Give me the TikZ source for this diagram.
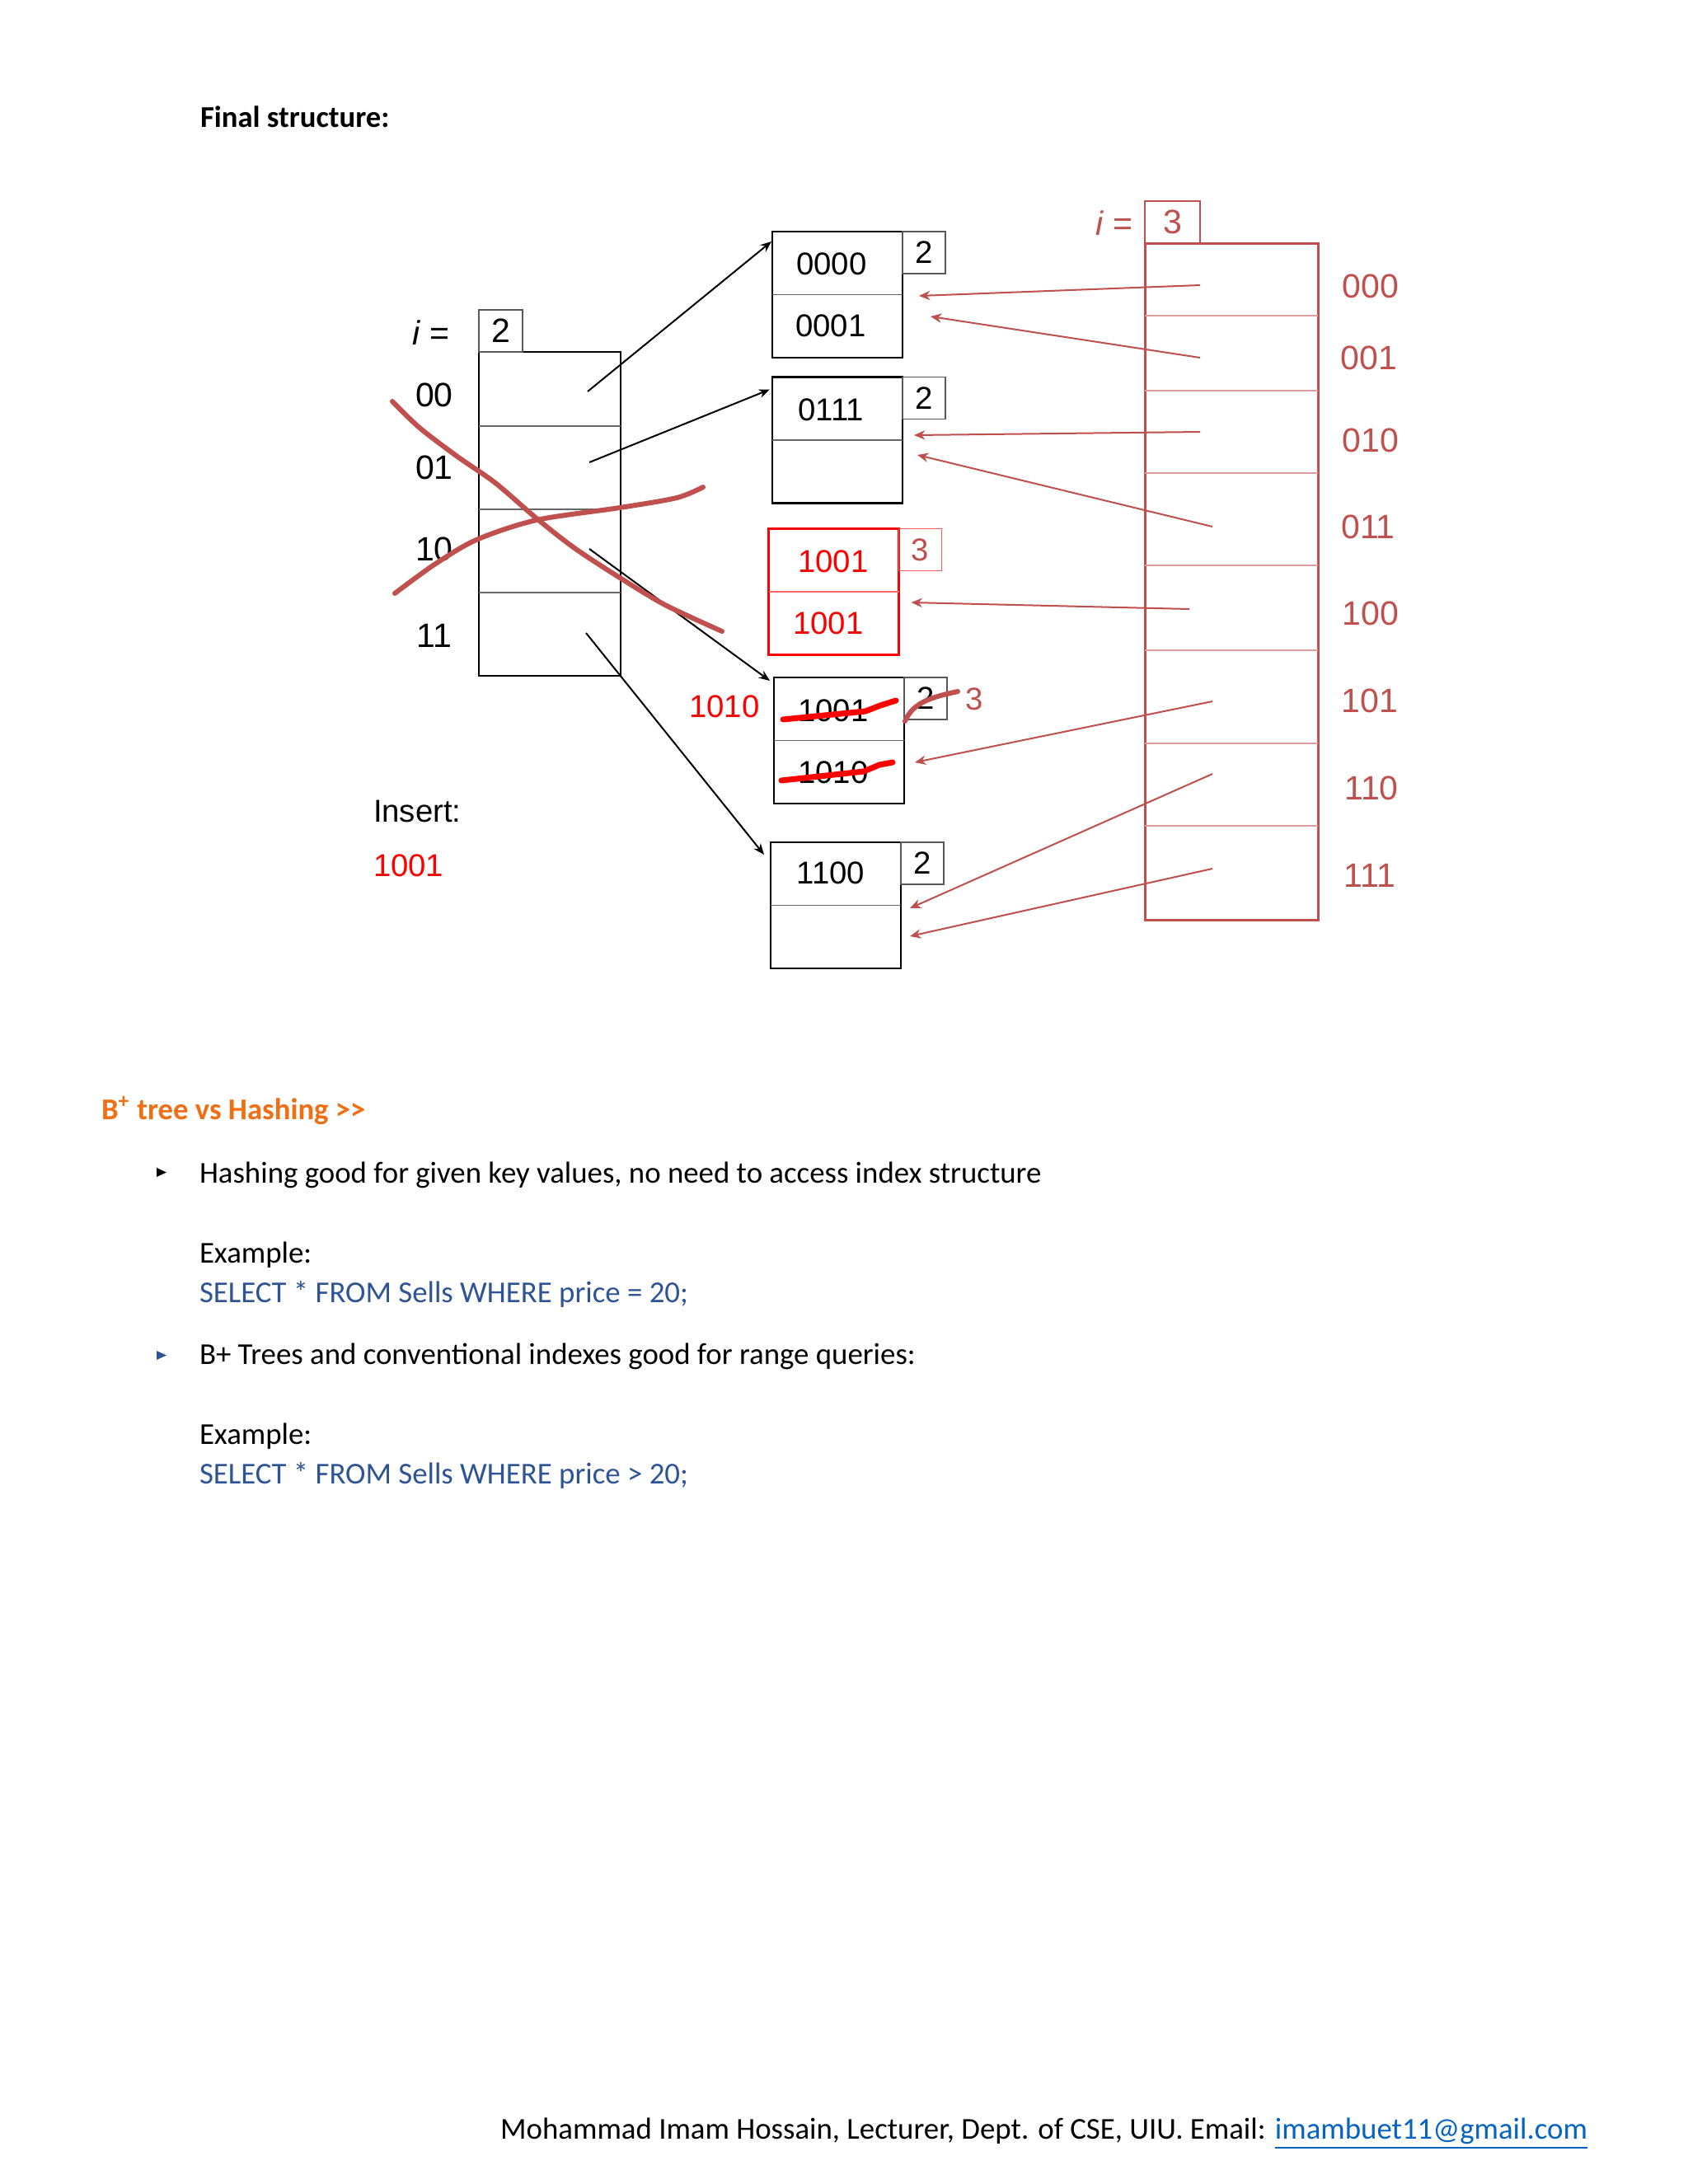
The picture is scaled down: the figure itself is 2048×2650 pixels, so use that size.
\documentclass[tikz,border=0pt]{standalone}
\usepackage{fontspec}
\setmainfont{Carlito}
\newfontfamily\arialfont{Liberation Sans}
\usetikzlibrary{arrows.meta}

\definecolor{dirred}{RGB}{192,80,77}
\definecolor{newred}{RGB}{255,0,0}
\definecolor{sqlblue}{RGB}{47,84,150}
\definecolor{headorange}{RGB}{240,110,20}
\definecolor{linkblue}{RGB}{5,99,193}

\begin{document}
\begin{tikzpicture}[
    x=0.3pt,
    y=-0.3pt,
    every node/.style={inner sep=0pt, outer sep=0pt},
    diag/.style={font=\arialfont\fontsize{11.5}{13}\selectfont},
    dirlab/.style={font=\arialfont\fontsize{12.3}{14}\selectfont},
    bucket/.style={draw, line width=0.8pt, minimum width=47.4pt, minimum height=45.9pt},
    divider/.style={draw=gray!80!black, line width=0.5pt},
    cntbox/.style={diag, draw=gray!70!black, line width=0.5pt, minimum width=15.6pt, minimum height=15.3pt, anchor=north west},
    ptr/.style={-{Stealth[length=4pt, width=3.2pt]}, line width=0.6pt},
    ptrthree/.style={-{Stealth[length=4pt, width=3.4pt]}, line width=0.6pt, draw=dirred},
    scribble/.style={draw=dirred, line width=1.8pt, line cap=round, line join=round},
    strike/.style={draw=newred, line width=2.1pt, line cap=round, line join=round},
    body/.style={anchor=base west, font=\fontsize{11.05}{13.4}\selectfont},
    bodybold/.style={anchor=base west, font=\bfseries\fontsize{11}{13.4}\selectfont}
]
\path[fill=white] (0,0) rectangle (2048,2650);
\useasboundingbox (0,0) rectangle (2048,2650);

\node[bodybold] (title) at (243,154) {Final structure:};

% old directory, i = 2
\node[draw, line width=0.8pt, minimum width=51.6pt, minimum height=117.9pt] (dirL) at (667,623.5) {};
\foreach \y in {517,618,719}
  \draw[divider] (581,\y) -- (753,\y);
\node[cntbox, anchor=south west, minimum width=15.9pt, dirlab] (cL) at (dirL.north west) {2};
\node[dirlab] (iL) at (523,404) {\textit{i} =};
\foreach \lab/\y in {00/479,01/567,10/666,11/771}
  \node[dirlab] (l\lab) at (527,\y) {\lab};

\coordinate (s00) at (713,475);
\coordinate (s01) at (715,561);
\coordinate (s10) at (715,666);
\coordinate (s11) at (711,768);

% buckets
\node[bucket] (bA) at (1016,357.5) {};
\node[bucket] (bB) at (1016,534) {};
\node[bucket, draw=newred] (bR) at (1011.5,718) {};
\node[bucket] (bX) at (1018,898.5) {};
\node[bucket] (bD) at (1014,1098.5) {};
\foreach \b in {bA,bB,bX,bD}
  \draw[divider] (\b.west) -- (\b.east);
\draw[draw=newred!60, line width=0.5pt] (bR.west) -- (bR.east);

\node[cntbox] (cA) at (bA.north east) {2};
\node[cntbox] (cB) at (bB.north east) {2};
\node[cntbox, draw=newred!65, text=dirred] (cR) at (bR.north east) {3};
\node[cntbox] (cX) at (bX.north east) {2};
\node[cntbox] (cD) at (bD.north east) {2};

\node[diag] (kA1) at (1009,320) {0000};
\node[diag] (kA2) at (1008,395) {0001};
\node[diag] (kB1) at (1008,497) {0111};
\node[diag, text=newred] (kR1) at (1011,681) {1001};
\node[diag, text=newred] (kR2) at (1005,756) {1001};
\node[diag] (kX1) at (1011,862) {1001};
\node[diag] (kX2) at (1011,937) {1010};
\node[diag] (kD1) at (1008,1059) {1100};
\node[diag, text=newred] (newkey) at (879,857) {1010};
\node[diag, text=dirred] (newdepth) at (1182,848) {3};

\draw[ptr] (s00) -- ([shift={(-1,12)}]bA.north west);
\draw[ptr] (s01) -- ([shift={(-3,15)}]bB.north west);
\draw[ptr] (s10) -- ([shift={(-5,4)}]bX.north west);
\draw[ptr] (s11) -- ([shift={(-8,15)}]bD.north west);

% new directory, i = 3
\node[draw=dirred, line width=0.9pt, minimum width=63pt, minimum height=246.3pt] (dirR) at (1494,705.5) {};
\foreach \y in {383,474,574,686,789,902,1002}
  \draw[draw=dirred!55, line width=0.5pt] (1389,\y) -- (1599,\y);
\node[cntbox, anchor=south west, minimum width=20.1pt, draw=dirred, text=dirred, dirlab] (cR3) at (dirR.north west) {3};
\node[dirlab, text=dirred] (iR) at (1352,271) {\textit{i} =};
\foreach \lab/\x/\y in {000/1663/347,001/1661/434,010/1663/534,011/1660/639,100/1663/744,101/1662/850,110/1664/956,111/1662/1062}
  \node[dirlab, text=dirred] (r\lab) at (\x,\y) {\lab};

\coordinate (p000) at (1456,346);
\coordinate (p001) at (1456,434);
\coordinate (p010) at (1456,524);
\coordinate (p011) at (1471,639);
\coordinate (p100) at (1443,739);
\coordinate (p101) at (1471,851);
\coordinate (p110) at (1471,939);
\coordinate (p111) at (1471,1054);

\draw[ptrthree] (p000) -- ([shift={(20,1.5)}]bA.east);
\draw[ptrthree] (p001) -- ([shift={(34,26.5)}]bA.east);
\draw[ptrthree] (p010) -- ([shift={(14,-6)}]bB.east);
\draw[ptrthree] (p011) -- ([shift={(18,18)}]bB.east);
\draw[ptrthree] (p100) -- ([shift={(15,13)}]bR.east);
\draw[ptrthree] (p101) -- ([shift={(13,26.5)}]bX.east);
\draw[ptrthree] (p110) -- ([shift={(11,3.5)}]bD.east);
\draw[ptrthree] (p111) -- ([shift={(11,37.5)}]bD.east);

% hand marks
\draw[scribble] plot[smooth] coordinates {(476,487) (509,519) (555,554) (601,586) (651,629) (697,665) (752,701) (807,734) (876,766)};
\draw[scribble] plot[smooth] coordinates {(479,720) (527,685) (578,655) (651,631) (752,616) (821,604) (853,591)};
\draw[scribble] (1098,875) .. controls (1108,852) and (1130,846) .. (1162,839);
\draw[strike] (950,873) -- (1050,863) -- (1068,856) -- (1087,850);
\draw[strike] (948,947) -- (1048,936) -- (1067,928) -- (1083,925);

\node[diag, anchor=base west] (ins) at (453,997) {Insert:};
\node[diag, anchor=base west, text=newred] (insval) at (453,1063) {1001};

% text below
\node[bodybold, text=headorange] (head) at (123,1358) {B\textsuperscript{+} tree vs Hashing >{}>};
\fill (190,1417) -- (202,1422.5) -- (190,1428) -- cycle;
\node[body] (t1) at (242,1435) {Hashing good for given key values, no need to access index structure};
\node[body] (e1) at (242,1532) {Example:};
\node[body, text=sqlblue] (q1) at (242,1580) {SELECT * FROM Sells WHERE price = 20;};
\fill[sqlblue] (190,1639) -- (202,1644.5) -- (190,1650) -- cycle;
\node[body] (t2) at (242,1655) {B+ Trees and conventional indexes good for range queries:};
\node[body] (e2) at (242,1752) {Example:};
\node[body, text=sqlblue] (q2) at (242,1800) {SELECT * FROM Sells WHERE price > 20;};

\node[body, anchor=base east] (foot) at (1926,2595) {Mohammad Imam Hossain, Lecturer, Dept. of CSE, UIU. Email: \textcolor{linkblue}{\underline{imambuet11@gmail.com}}};
\end{tikzpicture}
\end{document}
